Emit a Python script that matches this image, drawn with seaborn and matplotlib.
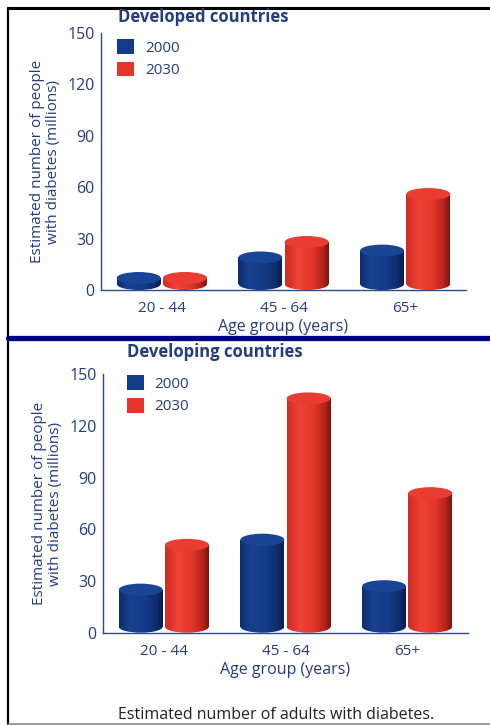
import numpy as np
import pandas as pd
import matplotlib
matplotlib.use("Agg")
import matplotlib.pyplot as plt
import seaborn as sns
from matplotlib.patches import Ellipse, Patch
from matplotlib.lines import Line2D
from matplotlib.colors import LinearSegmentedColormap

# ---- data ----
age_groups = ["20 - 44", "45 - 64", "65+"]
years = ["2000", "2030"]
developed_2000 = [7, 19, 23]
developed_2030 = [7, 28, 56]
developing_2000 = [25, 54, 27]
developing_2030 = [51, 136, 81]
y_ticks = [0, 30, 60, 90, 120, 150]

titles = ["Developed countries", "Developing countries"]
x_label = "Age group (years)"
y_label = "Estimated number of people\nwith diabetes (millions)"
caption = "Estimated number of adults with diabetes."

sns.set_style("white")
plt.rcParams["font.family"] = ["Open Sans", "DejaVu Sans"]

TXT = "#243c80"
AXC = "#2c4a8e"
BLUE = "#133b8b"
RED = "#e8352b"
palette = {"2000": BLUE, "2030": RED}

grad_cmaps = {
    "2000": LinearSegmentedColormap.from_list(
        "b", [(0, "#0c2c70"), (0.25, "#17418f"), (0.6, "#143a88"), (0.85, "#0e2d6e"), (1, "#071d4c")]),
    "2030": LinearSegmentedColormap.from_list(
        "r", [(0, "#d02b22"), (0.3, "#ee4337"), (0.6, "#e4372c"), (0.85, "#b8241b"), (1, "#7a140e")]),
}
top_colors = {"2000": "#1a4596", "2030": "#ea3d32"}

W, H = 490, 725
fig = plt.figure(figsize=(W / 100, H / 100), dpi=100)

panels = [
    dict(d2000=developed_2000, d2030=developed_2030,
         rect=(101 / W, 1 - 290 / H, (466 - 101) / W, (290 - 33) / H),
         title_xy=(118, 17), leg_y=33 + 6),
    dict(d2000=developing_2000, d2030=developing_2030,
         rect=(103 / W, 1 - 632.7 / H, (468 - 103) / W, (632.7 - 374.3) / H),
         title_xy=(127, 352), leg_y=374.3 + 1),
]

grad = np.linspace(0, 1, 256).reshape(1, -1)

for i, p in enumerate(panels):
    ax = fig.add_axes(p["rect"])
    df = pd.DataFrame({
        "age": age_groups * 2,
        "year": [years[0]] * 3 + [years[1]] * 3,
        "value": list(p["d2000"]) + list(p["d2030"]),
    })
    sns.barplot(data=df, x="age", y="value", hue="year", palette=palette,
                order=age_groups, hue_order=years, width=0.76, gap=0.05,
                legend=False, ax=ax, errorbar=None)
    ax.set_xlim(-0.5, 2.5)
    ax.set_ylim(0, 150)

    ax_h_px = p["rect"][3] * H
    e = 6.0 / ax_h_px * 150  # half-height of cylinder ellipse in data units

    bars = [b for b in ax.patches]
    for k, bar in enumerate(bars):
        yr = years[k // 3]
        x0 = bar.get_x()
        w = bar.get_width()
        v = bar.get_height()
        cx = x0 + w / 2
        cmap = grad_cmaps[yr]
        # body
        bar.set_y(e)
        bar.set_height(max(v - e, 0))
        bar.set_facecolor("none")
        bar.set_edgecolor("none")
        im = ax.imshow(grad, cmap=cmap, aspect="auto", extent=[x0, x0 + w, 0, v],
                       zorder=3, interpolation="bilinear")
        im.set_clip_path(bar)
        # bottom ellipse
        be = Ellipse((cx, e), w, 2 * e, facecolor="none", edgecolor="none", zorder=2)
        ax.add_patch(be)
        im2 = ax.imshow(grad, cmap=cmap, aspect="auto", extent=[x0, x0 + w, 0, 2 * e],
                        zorder=2, interpolation="bilinear")
        im2.set_clip_path(be)
        # top ellipse
        te = Ellipse((cx, v), w, 2 * e, facecolor=top_colors[yr], edgecolor="none", zorder=4)
        ax.add_patch(te)
    ax.set_xlim(-0.5, 2.5)
    ax.set_ylim(0, 150)

    sns.despine(ax=ax)
    for s in ["left", "bottom"]:
        ax.spines[s].set_color(AXC)
        ax.spines[s].set_linewidth(1.0)
        ax.spines[s].set_zorder(5)
    ax.set_yticks(y_ticks)
    ax.set_yticklabels([str(t) for t in y_ticks])
    ax.tick_params(axis="y", direction="in", length=6, width=0.9, color=AXC,
                   labelsize=11.5, labelcolor=TXT, pad=4.5)
    ax.set_xticks([0, 1, 2])
    ax.set_xticklabels(age_groups)
    ax.tick_params(axis="x", which="major", length=0, labelsize=11, labelcolor=TXT, pad=8)
    ax.set_xticks([0.5, 1.5, 2.5], minor=True)
    ax.tick_params(axis="x", which="minor", direction="in", length=4, width=0.9, color=AXC)
    ax.set_xlabel(x_label, fontsize=11.5, color=TXT, labelpad=2)
    ax.set_ylabel(y_label, fontsize=11, color=TXT, linespacing=1.1)
    ax.yaxis.set_label_coords(-0.11, 0.5)

    handles = [Patch(facecolor=palette[y], edgecolor="none", label=y) for y in years]
    leg_top = 1 - (p["leg_y"] - (1 - p["rect"][1] - p["rect"][3]) * H) / ax_h_px
    ax.legend(handles=handles, loc="upper left",
              bbox_to_anchor=(0.045 if i == 0 else 0.065, leg_top), frameon=False,
              fontsize=11, handlelength=1.1, handleheight=1.1,
              handletextpad=0.7, labelspacing=0.4, borderpad=0, borderaxespad=0,
              labelcolor=TXT)

    fig.text(p["title_xy"][0] / W, 1 - p["title_xy"][1] / H, titles[i],
             fontsize=12, fontweight="bold", color=TXT, ha="left", va="center")

# frame decorations
fig.add_artist(Line2D([8 / W, 1], [1 - 8 / H, 1 - 8 / H], color="black", lw=2.2,
                      transform=fig.transFigure))
fig.add_artist(Line2D([8 / W, 8 / W], [1 - 8 / H, 0], color="black", lw=1.6,
                      transform=fig.transFigure))
fig.add_artist(Line2D([8 / W, 1], [1 - 338 / H, 1 - 338 / H], color="#000080", lw=3.8,
                      transform=fig.transFigure))
fig.add_artist(Line2D([8 / W, 1], [1 - 723.5 / H, 1 - 723.5 / H], color="#888888", lw=1.2,
                      transform=fig.transFigure))

fig.text(118 / W, 1 - 723 / H, caption, fontsize=11.5, color="#222222",
         ha="left", va="bottom")

fig.savefig("out.png", dpi=100)
